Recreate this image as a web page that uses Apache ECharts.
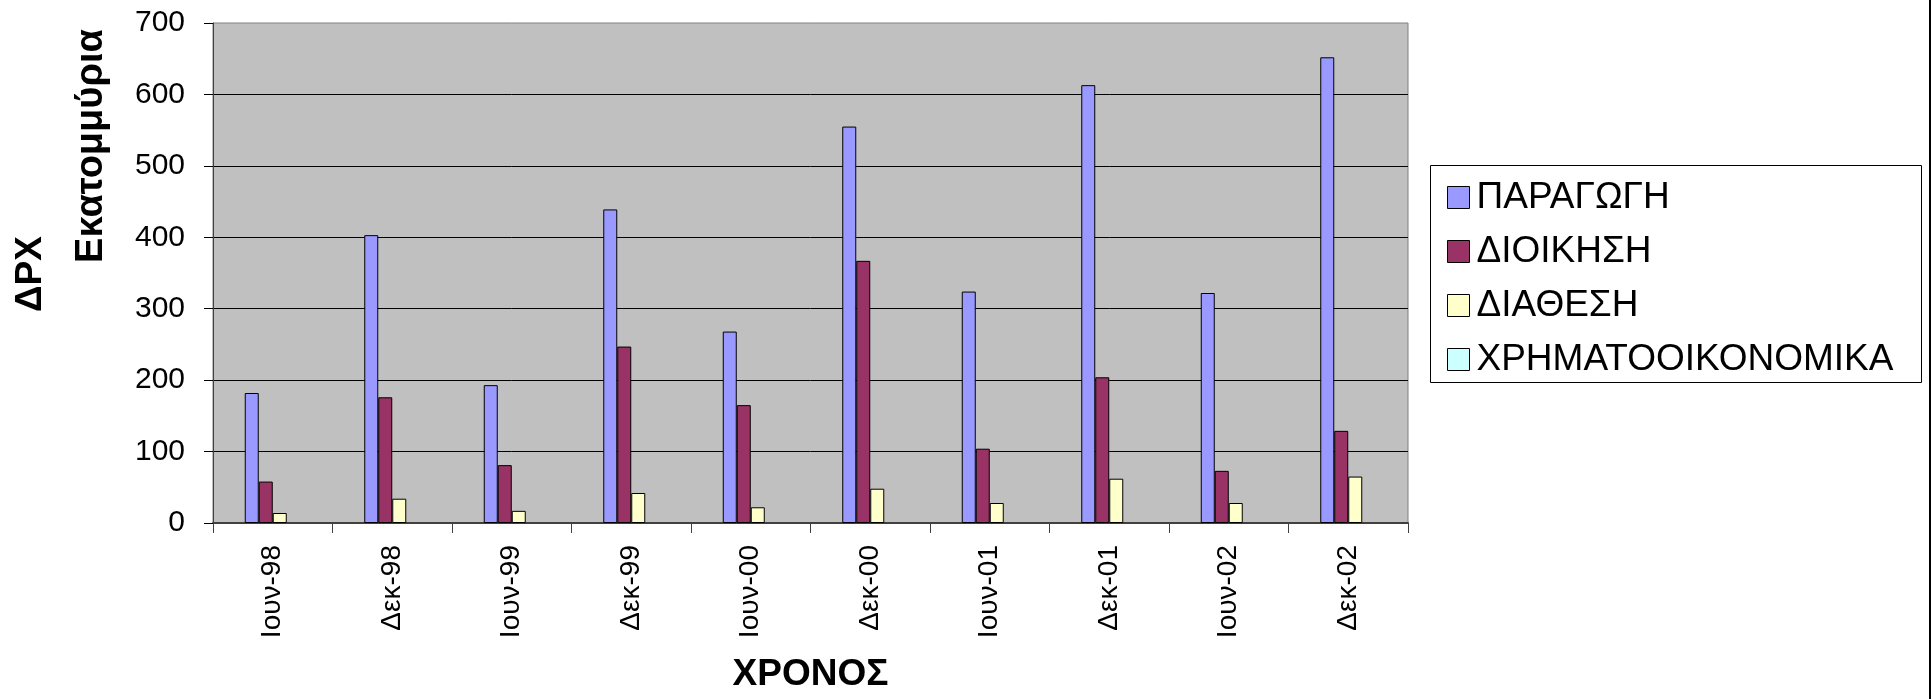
<!DOCTYPE html>
<html>
<head>
<meta charset="utf-8">
<script src="https://cdn.jsdelivr.net/npm/echarts@6/dist/echarts.min.js"></script>
<style>
html,body{margin:0;padding:0;background:#fff;}
#chart{width:1932px;height:699px;}
</style>
</head>
<body>
<div id="chart"></div>
<script>
const categories = ['Ιουν-98','Δεκ-98','Ιουν-99','Δεκ-99','Ιουν-00','Δεκ-00','Ιουν-01','Δεκ-01','Ιουν-02','Δεκ-02'];
const seriesNames = ['ΠΑΡΑΓΩΓΗ','ΔΙΟΙΚΗΣΗ','ΔΙΑΘΕΣΗ','ΧΡΗΜΑΤΟΟΙΚΟΝΟΜΙΚΑ'];
const paragogi = [182, 403, 193, 439, 268, 555, 324, 613, 322, 652];
const dioikisi = [58, 176, 81, 247, 165, 367, 104, 204, 73, 129];
const diathesi = [14, 34, 17, 42, 22, 48, 28, 62, 28, 65];
const xrimatooikonomika = [0, 0, 0, 0, 0, 0, 0, 0, 0, 0];
const yTicks = [0, 100, 200, 300, 400, 500, 600, 700];

const colors = ['#9999FF', '#993366', '#FFFFCC', '#CCFFFF'];
const FONT = '"Liberation Sans", Arial, sans-serif';
const values = [paragogi, dioikisi, diathesi, xrimatooikonomika];

const chart = echarts.init(document.getElementById('chart'), null, {renderer: 'canvas'});
chart.setOption({
  animation: false,
  backgroundColor: '#ffffff',
  grid: {
    left: 213, right: 524, top: 23, bottom: 176,
    show: true, backgroundColor: '#C0C0C0', borderColor: '#808080', borderWidth: 1
  },
  legend: {
    orient: 'vertical',
    left: 1442, top: 174,
    itemWidth: 22, itemHeight: 22, itemGap: 17,
    icon: 'rect',
    textStyle: {fontFamily: FONT, fontSize: 37, color: '#000', padding: [0, 0, 0, 2]},
    data: seriesNames.map((n, i) => ({
      name: n,
      itemStyle: {color: colors[i], borderColor: '#000', borderWidth: 1}
    }))
  },
  xAxis: {
    type: 'category',
    data: categories,
    name: 'ΧΡΟΝΟΣ',
    nameLocation: 'middle',
    nameGap: 133,
    nameTextStyle: {fontFamily: FONT, fontSize: 37, fontWeight: 'bold', color: '#000'},
    axisLine: {show: true, lineStyle: {color: '#404040', width: 2}},
    axisTick: {show: true, length: 10, lineStyle: {color: '#404040', width: 1}},
    axisLabel: {rotate: 90, margin: 22, fontFamily: FONT, fontSize: 28, color: '#000', interval: 0}
  },
  yAxis: {
    type: 'value',
    min: yTicks[0], max: yTicks[yTicks.length - 1], interval: 100,
    axisLine: {show: true, lineStyle: {color: '#404040', width: 1}},
    axisTick: {show: true, length: 9, lineStyle: {color: '#000', width: 1}},
    axisLabel: {margin: 28, fontFamily: FONT, fontSize: 30, color: '#000'},
    splitLine: {show: true, showMinLine: false, showMaxLine: false, lineStyle: {color: '#000', width: 1}}
  },
  graphic: [
    {type: 'text', x: 92, y: 146, rotation: Math.PI / 2,
     style: {text: 'Εκατομμύρια', font: 'bold 38px ' + FONT, fill: '#000', textAlign: 'center', textVerticalAlign: 'middle'}},
    {type: 'text', x: 31, y: 274, rotation: Math.PI / 2,
     style: {text: 'ΔΡΧ', font: 'bold 37px ' + FONT, fill: '#000', textAlign: 'center', textVerticalAlign: 'middle'}},
    {type: 'rect', shape: {x: 1430.5, y: 165.5, width: 491, height: 217},
     style: {fill: 'none', stroke: '#000', lineWidth: 1}, z: -1},
    {type: 'line', shape: {x1: 1930, y1: 0, x2: 1930, y2: 699},
     style: {stroke: '#000', lineWidth: 2}}
  ],
  series: seriesNames.map((name, i) => ({
    name: name,
    type: 'bar',
    data: values[i],
    barWidth: 14,
    barGap: '0%',
    itemStyle: {color: colors[i], borderColor: '#000', borderWidth: i === 3 ? 0 : 1}
  }))
});
</script>
</body>
</html>
